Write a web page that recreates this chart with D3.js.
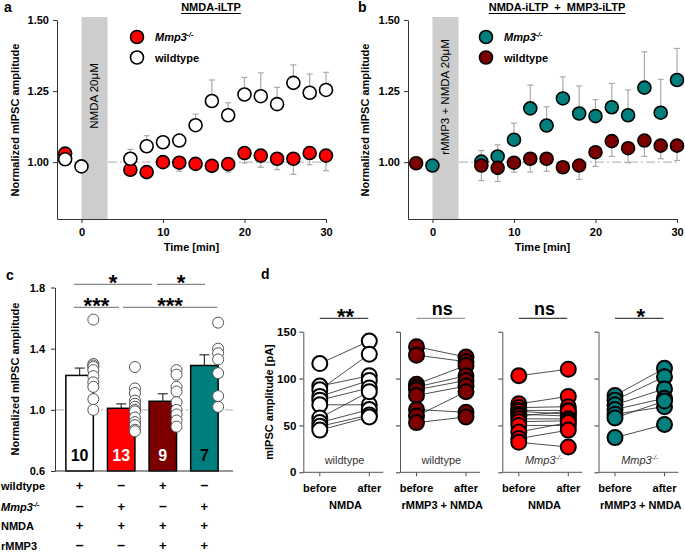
<!DOCTYPE html>
<html><head><meta charset="utf-8">
<script src="https://cdn.jsdelivr.net/npm/d3@7"></script>
<style>
body{margin:0;background:#fff}
svg{display:block}
text{font-family:"Liberation Sans",Arial,sans-serif}
</style>
</head><body>
<svg id="chart" width="685" height="553"></svg>
<script>
// ---------------- DATA ----------------
const timePoints = [-2, 0, 6, 8, 10, 12, 14, 16, 18, 20, 22, 24, 26, 28, 30];
const timeTicks = [0, 10, 20, 30];
const timeDomain = [-3, 30];
const stimWindow = [0, 3.2];
const normDomain = [0.8, 1.5];
const normTicks = [1.0, 1.25, 1.5];

// panel a: NMDA-iLTP
const aMmp3 = [1.03, null, 0.973, 0.965, 1.0, 0.998, 0.994, 0.987, 0.993, 1.032, 1.023, 1.012, 1.012, 1.032, 1.023];
const aMmp3Err = [0.01, null, 0.015, 0.015, 0.02, 0.03, 0.02, 0.02, 0.028, 0.035, 0.041, 0.038, 0.055, 0.041, 0.053];
const aWt = [1.01, 0.985, 1.012, 1.056, 1.07, 1.076, 1.13, 1.215, 1.165, 1.238, 1.232, 1.204, 1.279, 1.244, 1.254];
const aWtErr = [0.01, 0.01, 0.033, 0.037, 0.02, 0.015, 0.039, 0.074, 0.044, 0.06, 0.082, 0.059, 0.063, 0.066, 0.062];

// panel b: NMDA-iLTP + MMP3-iLTP
const bMmp3 = [null, 0.988, 1.002, 1.02, 1.079, 1.189, 1.129, 1.224, 1.171, 1.162, 1.193, 1.165, 1.262, 1.174, 1.289];
const bMmp3Err = [null, 0.01, 0.039, 0.041, 0.058, 0.082, 0.066, 0.076, 0.097, 0.058, 0.084, 0.089, 0.126, 0.117, 0.111];
const bWt = [0.996, null, 0.988, 0.98, 0.998, 1.012, 1.012, 0.982, 0.988, 1.035, 1.074, 1.049, 1.076, 1.058, 1.058];
const bWtErr = [0.01, null, 0.053, 0.048, 0.033, 0.047, 0.044, 0.015, 0.049, 0.05, 0.054, 0.051, 0.056, 0.046, 0.052];

// panel c: summary bars
const cGroups = ["wt NMDA", "Mmp3 NMDA", "wt rMMP3+NMDA", "Mmp3 rMMP3+NMDA"];
const cMeans = [1.225, 1.01, 1.056, 1.29];
const cErr = [0.048, 0.029, 0.049, 0.07];
const cN = [10, 13, 9, 7];
const cPtsWt = [1.59, 1.30, 1.29, 1.28, 1.26, 1.22, 1.18, 1.15, 1.07, 1.00];
const cPtsMmp3 = [1.28, 1.14, 1.11, 1.06, 1.04, 1.02, 1.0, 0.99, 0.95, 0.92, 0.90, 0.87, 0.86];
const cPtsWtR = [1.26, 1.23, 1.15, 1.12, 1.05, 1.0, 0.97, 0.93, 0.89];
const cPtsMmp3R = [1.57, 1.40, 1.37, 1.33, 1.24, 1.09, 1.02];
const cDomain = [0.6, 1.8];
const cTicks = [0.6, 1.0, 1.4, 1.8];
const cRowLabels = ["wildtype", "Mmp3", "NMDA", "rMMP3"];
const cRowWildtype = ["+", "–", "+", "–"];
const cRowMmp3 = ["–", "+", "–", "+"];
const cRowNmda = ["+", "+", "+", "+"];
const cRowRmmp3 = ["–", "–", "+", "+"];
const cSig = [
  {from: 0, to: 2, label: "*", level: 0},
  {from: 2, to: 3, label: "*", level: 0},
  {from: 0, to: 1, label: "***", level: 1},
  {from: 1, to: 3, label: "***", level: 1}
];

// panel d: paired before/after
const dDomain = [0, 150];
const dTicks = [0, 50, 100, 150];
const dConds = ["before", "after"];
const dWtNmdaBefore = [116, 92, 88, 81, 77, 72, 58, 53, 49, 45];
const dWtNmdaAfter = [140, 103, 126, 98, 90, 72, 86, 67, 61, 59];
const dWtRBefore = [134, 125, 94, 91, 88, 82, 67, 60, 53];
const dWtRAfter = [123, 118, 114, 103, 98, 92, 64, 86, 59];
const dMmp3NmdaBefore = [103, 73, 69, 66, 65, 62, 60, 57, 54, 50, 43, 36, 32];
const dMmp3NmdaAfter = [110, 81, 70, 66, 62, 60, 65, 57, 55, 50, 53, 45, 27];
const dMmp3RBefore = [82, 77, 72, 67, 62, 58, 37];
const dMmp3RAfter = [111, 102, 89, 79, 70, 76, 51];
const dTreatments = ["NMDA", "rMMP3 + NMDA", "NMDA", "rMMP3 + NMDA"];
const dGenotypes = ["wildtype", "wildtype", "Mmp3", "Mmp3"];
const dSig = ["**", "ns", "ns", "*"];

// ---------------- DRAW ----------------
const COL = {white: "#ffffff", red: "#ff0000", dark: "#7d0000", teal: "#007f7f"};
const svg = d3.select("#chart");

function styleAxis(g, labels) {
  g.select(".domain").attr("stroke", "#333").attr("stroke-width", 1);
  g.selectAll(".tick line").attr("stroke", "#333");
  g.selectAll(".tick text").attr("font-size", 11).attr("font-weight", "bold")
    .attr("fill", "#000").attr("font-family", '"Liberation Sans",Arial,sans-serif');
  if (labels === false) g.selectAll(".tick text").remove();
}
function mmpText(t, sup, italic) {
  t.append("tspan").attr("font-style", italic === false ? null : "italic").text("Mmp3");
  t.append("tspan").attr("font-size", sup).attr("dy", -4).attr("font-style", "italic").text("-/-");
}
function panelLabel(x, y, s) {
  svg.append("text").attr("x", x).attr("y", y).attr("font-size", 14).attr("font-weight", "bold").text(s);
}
function yTitle(x, y, s) {
  svg.append("text").attr("transform", `translate(${x},${y}) rotate(-90)`).attr("text-anchor", "middle")
    .attr("font-size", 11).attr("font-weight", "bold").text(s);
}

function timePanel(o) {
  const x = d3.scaleLinear().domain(timeDomain).range([o.x0, o.x1]);
  const y = d3.scaleLinear().domain(normDomain).range([219, 20]);
  const g = svg.append("g");
  g.append("line").attr("x1", o.x0).attr("x2", o.x1).attr("y1", y(1)).attr("y2", y(1))
    .attr("stroke", "#bdbdbd").attr("stroke-width", 1.2).attr("stroke-dasharray", "9,3,2,3");
  g.append("rect").attr("x", x(stimWindow[0])).attr("width", x(stimWindow[1]) - x(stimWindow[0]))
    .attr("y", y(normDomain[1]) - 3).attr("height", y(normDomain[0]) - y(normDomain[1]) + 3)
    .attr("fill", "#cdcdcd");
  const cx = (x(stimWindow[0]) + x(stimWindow[1])) / 2;
  g.append("text").attr("transform", `translate(${cx + 4},${o.barLabelY}) rotate(-90)`)
    .attr("text-anchor", "middle").attr("font-size", 11.5).text(o.barLabel);
  const ya = g.append("g").attr("transform", `translate(${o.x0},0)`)
    .call(d3.axisLeft(y).tickValues(normTicks).tickFormat(d3.format(".2f")).tickSize(4).tickPadding(4).tickSizeOuter(0));
  const xa = g.append("g").attr("transform", `translate(0,${y(normDomain[0])})`)
    .call(d3.axisBottom(x).tickValues(timeTicks).tickFormat(d3.format("d")).tickSize(4).tickPadding(5).tickSizeOuter(0));
  styleAxis(ya); styleAxis(xa);
  // error bars
  o.series.forEach(s => {
    const eg = g.append("g").attr("stroke", "#aaaaaa").attr("stroke-width", 1.2);
    timePoints.forEach((t, i) => {
      if (s.vals[i] == null) return;
      const y1 = y(s.vals[i]), y2 = y(s.vals[i] + s.dir * s.errs[i]);
      eg.append("line").attr("x1", x(t)).attr("x2", x(t)).attr("y1", y1).attr("y2", y2);
      eg.append("line").attr("x1", x(t) - 3).attr("x2", x(t) + 3).attr("y1", y2).attr("y2", y2);
    });
  });
  o.series.forEach(s => {
    g.append("g").selectAll("circle")
      .data(timePoints.map((t, i) => ({t, v: s.vals[i]})).filter(d => d.v != null))
      .join("circle").attr("cx", d => x(d.t)).attr("cy", d => y(d.v)).attr("r", 6.5)
      .attr("fill", s.fill).attr("stroke", "#000").attr("stroke-width", 1.6);
  });
  // title
  const tt = g.append("text").attr("x", o.titleX).attr("y", 11).attr("text-anchor", "middle")
    .attr("font-size", 11).attr("font-weight", "bold").style("white-space", "pre").text(o.title);
  const bb = tt.node().getBBox();
  g.append("line").attr("x1", bb.x).attr("x2", bb.x + bb.width).attr("y1", 13.5).attr("y2", 13.5)
    .attr("stroke", "#000").attr("stroke-width", 1);
  // legend
  o.legend.forEach((l, i) => {
    const ly = 37 + i * 20.5;
    g.append("circle").attr("cx", o.legX).attr("cy", ly).attr("r", 6.5).attr("fill", l.fill)
      .attr("stroke", "#000").attr("stroke-width", 1.6);
    const t = g.append("text").attr("x", o.legX + 18).attr("y", ly + 4).attr("font-size", 11).attr("font-weight", "bold");
    if (l.mmp) mmpText(t, 7); else t.text(l.label);
  });
  g.append("text").attr("x", (o.x0 + o.x1) / 2).attr("y", 251).attr("text-anchor", "middle")
    .attr("font-size", 11).attr("font-weight", "bold").text("Time [min]");
}

panelLabel(4, 12, "a");
yTitle(19, 120, "Normalized mIPSC amplitude");
timePanel({
  x0: 57, x1: 326, barLabel: "NMDA 20μM", barLabelY: 96, title: "NMDA-iLTP", titleX: 211, legX: 137,
  series: [
    {vals: aMmp3, errs: aMmp3Err, dir: -1, fill: COL.red},
    {vals: aWt, errs: aWtErr, dir: 1, fill: COL.white}
  ],
  legend: [{fill: COL.red, mmp: true}, {fill: COL.white, label: "wildtype"}]
});

panelLabel(358, 12, "b");
yTitle(369, 120, "Normalized mIPSC amplitude");
timePanel({
  x0: 408, x1: 677, barLabel: "rMMP3 + NMDA 20μM", barLabelY: 97, title: "NMDA-iLTP  +  MMP3-iLTP", titleX: 557, legX: 486,
  series: [
    {vals: bMmp3, errs: bMmp3Err, dir: 1, fill: COL.teal},
    {vals: bWt, errs: bWtErr, dir: -1, fill: COL.dark}
  ],
  legend: [{fill: COL.teal, mmp: true}, {fill: COL.dark, label: "wildtype"}]
});

// ---------- panel c ----------
(function () {
  panelLabel(6, 280, "c");
  yTitle(19, 379, "Normalized mIPSC amplitude");
  const y = d3.scaleLinear().domain(cDomain).range([471, 287.5]);
  const x = d3.scaleBand().domain(cGroups).range([58.8, 225.2]).paddingInner(0.34).paddingOuter(0.17);
  const g = svg.append("g");
  const fills = [COL.white, COL.red, COL.dark, COL.teal];
  const numCol = ["#000", "#fff", "#fff", "#000"];
  const pts = [cPtsWt, cPtsMmp3, cPtsWtR, cPtsMmp3R];
  g.append("line").attr("x1", 55).attr("x2", 233).attr("y1", y(1)).attr("y2", y(1))
    .attr("stroke", "#bdbdbd").attr("stroke-width", 1.2).attr("stroke-dasharray", "9,3,2,3");
  // error bars
  cGroups.forEach((c, i) => {
    const xc = x(c) + x.bandwidth() / 2, yt = y(cMeans[i] + cErr[i]);
    g.append("line").attr("x1", xc).attr("x2", xc).attr("y1", y(cMeans[i])).attr("y2", yt).attr("stroke", "#333").attr("stroke-width", 1.2);
    g.append("line").attr("x1", xc - 5).attr("x2", xc + 5).attr("y1", yt).attr("y2", yt).attr("stroke", "#333").attr("stroke-width", 1.2);
  });
  g.selectAll("rect.bar").data(cGroups).join("rect").attr("class", "bar")
    .attr("x", d => x(d)).attr("width", x.bandwidth())
    .attr("y", (d, i) => y(cMeans[i])).attr("height", (d, i) => y(cDomain[0]) - y(cMeans[i]))
    .attr("fill", (d, i) => fills[i]).attr("stroke", "#000").attr("stroke-width", 1.5);
  cGroups.forEach((c, i) => {
    g.append("g").selectAll("circle").data(pts[i]).join("circle")
      .attr("cx", x(c) + x.bandwidth()).attr("cy", d => y(d)).attr("r", 5.5)
      .attr("fill", "#fff").attr("stroke", "#555").attr("stroke-width", 1);
    g.append("text").attr("x", x(c) + x.bandwidth() / 2).attr("y", 461).attr("text-anchor", "middle")
      .attr("font-size", 16).attr("font-weight", "bold").attr("fill", numCol[i]).text(cN[i]);
  });
  const ya = g.append("g").attr("transform", "translate(55,0)")
    .call(d3.axisLeft(y).tickValues(cTicks).tickFormat(d3.format(".1f")).tickSize(4).tickPadding(6).tickSizeOuter(0));
  styleAxis(ya);
  g.append("line").attr("x1", 55).attr("x2", 233).attr("y1", y(cDomain[0])).attr("y2", y(cDomain[0]))
    .attr("stroke", "#333").attr("stroke-width", 1);
  // significance (line ends offset from bar edges)
  const lvY = [284.3, 307.3], starBase = [290, 312.5];
  const offs = [[8, 3], [8, -13], [8, 11.5], [15.5, -1]];
  cSig.forEach((s, k) => {
    const a = x(cGroups[s.from]) + offs[k][0];
    const b = (s.to === 3 ? x(cGroups[3]) + x.bandwidth() : x(cGroups[s.to])) + offs[k][1];
    g.append("line").attr("x1", a).attr("x2", b).attr("y1", lvY[s.level]).attr("y2", lvY[s.level])
      .attr("stroke", "#888").attr("stroke-width", 1.3);
    g.append("text").attr("x", (a + b) / 2).attr("y", starBase[s.level]).attr("text-anchor", "middle")
      .attr("font-size", 22).attr("font-weight", "bold").text(s.label);
  });
  // table
  const rows = [cRowWildtype, cRowMmp3, cRowNmda, cRowRmmp3];
  const rowY = [490, 510.5, 530, 550];
  cRowLabels.forEach((lab, r) => {
    const t = svg.append("text").attr("x", 1).attr("y", rowY[r]).attr("font-size", 11).attr("font-weight", "bold");
    if (lab === "Mmp3") mmpText(t, 7); else t.text(lab);
    rows[r].forEach((s, i) => {
      svg.append("text").attr("x", x(cGroups[i]) + x.bandwidth() / 2).attr("y", rowY[r])
        .attr("text-anchor", "middle").attr("font-size", s === "+" ? 13 : 14).attr("font-weight", "bold").text(s);
    });
  });
})();

// ---------- panel d ----------
(function () {
  panelLabel(261, 279, "d");
  yTitle(273, 402, "mIPSC amplitude [pA]");
  const y = d3.scaleLinear().domain(dDomain).range([472.3, 331.7]);
  const origins = [303.3, 400, 502.3, 598.5];
  const before = [dWtNmdaBefore, dWtRBefore, dMmp3NmdaBefore, dMmp3RBefore];
  const after = [dWtNmdaAfter, dWtRAfter, dMmp3NmdaAfter, dMmp3RAfter];
  const fills = [COL.white, COL.dark, COL.red, COL.teal];
  const sigCol = ["#444", "#999", "#444", "#444"];
  origins.forEach((ox, k) => {
    const g = svg.append("g");
    const x = d3.scalePoint().domain(dConds).range([ox + 16.5, ox + 66]);
    const ya = g.append("g").attr("transform", `translate(${ox},0)`)
      .call(d3.axisLeft(y).tickValues(dTicks).tickFormat(d3.format("d")).tickSize(4).tickPadding(3).tickSizeOuter(0));
    styleAxis(ya, k === 0);
    ya.selectAll(".tick text").attr("font-size", 11.5);
    g.select(".domain").attr("stroke", "#555");
    g.append("line").attr("x1", ox).attr("x2", ox + 80).attr("y1", y(0)).attr("y2", y(0)).attr("stroke", "#555");
    dConds.forEach(c => g.append("line").attr("x1", x(c)).attr("x2", x(c)).attr("y1", y(0)).attr("y2", y(0) + 4).attr("stroke", "#555"));
    const pairs = before[k].map((b, i) => ({b, a: after[k][i]}));
    g.append("g").selectAll("line").data(pairs).join("line")
      .attr("x1", x("before")).attr("x2", x("after")).attr("y1", d => y(d.b)).attr("y2", d => y(d.a))
      .attr("stroke", "#222").attr("stroke-width", 0.8);
    g.append("g").selectAll("circle").data(before[k]).join("circle")
      .attr("cx", x("before")).attr("cy", d => y(d)).attr("r", 7.5)
      .attr("fill", fills[k]).attr("stroke", "#000").attr("stroke-width", 2);
    g.append("g").selectAll("circle").data(after[k]).join("circle")
      .attr("cx", x("after")).attr("cy", d => y(d)).attr("r", 7.5)
      .attr("fill", fills[k]).attr("stroke", "#000").attr("stroke-width", 2);
    const mid = (x("before") + x("after")) / 2;
    const gt = g.append("text").attr("x", mid).attr("y", 464).attr("text-anchor", "middle")
      .attr("font-size", 11).attr("fill", "#333");
    if (dGenotypes[k] === "Mmp3") mmpText(gt, 7); else gt.text(dGenotypes[k]);
    dConds.forEach(c => g.append("text").attr("x", x(c)).attr("y", 491.5).attr("text-anchor", "middle")
      .attr("font-size", 11).attr("font-weight", "bold").text(c));
    g.append("text").attr("x", mid + 1).attr("y", 508.5).attr("text-anchor", "middle")
      .attr("font-size", 11).attr("font-weight", "bold").text(dTreatments[k]);
    g.append("line").attr("x1", x("before")).attr("x2", x("after") - 1).attr("y1", 318.3).attr("y2", 318.3)
      .attr("stroke", sigCol[k]).attr("stroke-width", 1.3);
    const isNs = dSig[k] === "ns";
    g.append("text").attr("x", mid + 1).attr("y", isNs ? 315 : 323.5).attr("text-anchor", "middle")
      .attr("font-size", isNs ? 18 : 22).attr("font-weight", "bold").text(dSig[k]);
  });
})();
</script>
</body></html>
